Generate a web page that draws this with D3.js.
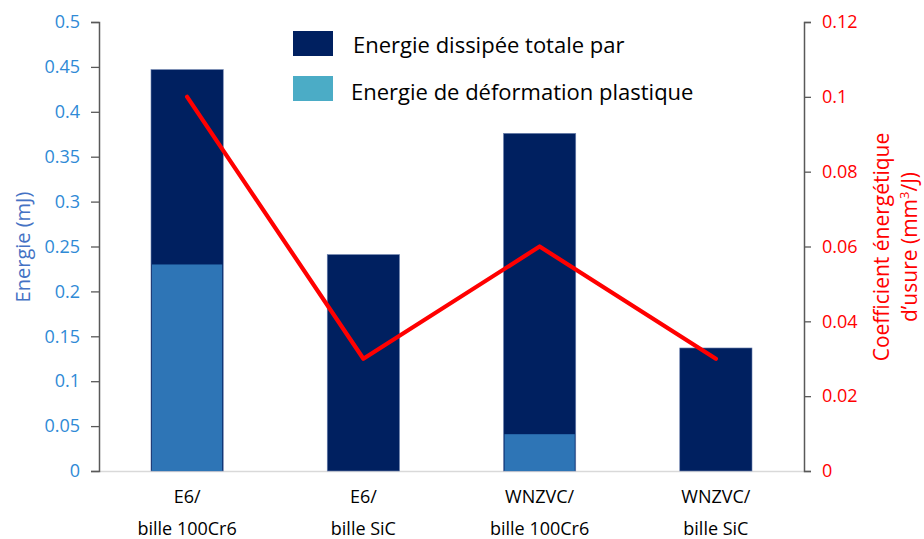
<!DOCTYPE html>
<html>
<head>
<meta charset="utf-8">
<script src="https://cdn.jsdelivr.net/npm/d3@7"></script>
<style>
  html, body { margin: 0; padding: 0; background: #fff; }
  svg { display: block; font-family: "Open Sans", "Noto Sans", sans-serif; }
</style>
</head>
<body>
<svg id="chart" width="924" height="539"></svg>
<script>
// Tribology test pairs (line 1 / line 2 of each label)
const categories = ["E6/\nbille 100Cr6", "E6/\nbille SiC", "WNZVC/\nbille 100Cr6", "WNZVC/\nbille SiC"];
// Total dissipated energy (mJ)
const totalEnergy = [0.447, 0.241, 0.376, 0.137];
// Plastic deformation energy (mJ)
const plasticEnergy = [0.23, 0, 0.041, 0];
// Energetic wear coefficient (mm³/J)
const wearCoef = [0.1, 0.03, 0.06, 0.03];
// Axis ticks
const leftTicks = [0, 0.05, 0.1, 0.15, 0.2, 0.25, 0.3, 0.35, 0.4, 0.45, 0.5];
const rightTicks = [0, 0.02, 0.04, 0.06, 0.08, 0.1, 0.12];
const legendLabels = ["Energie dissipée totale par", "Energie de déformation plastique"];

const svg = d3.select("#chart");
const plot = { left: 99, right: 804, top: 22, bottom: 471 };

const x = d3.scaleBand().domain(categories).range([plot.left, plot.right]).paddingInner(0.59).paddingOuter(0.295);
const yL = d3.scaleLinear().domain([0, 0.5]).range([plot.bottom, plot.top]);
const yR = d3.scaleLinear().domain([0, 0.12]).range([plot.bottom, plot.top]);

// Baseline
svg.append("line")
  .attr("x1", plot.left).attr("x2", plot.right)
  .attr("y1", plot.bottom + 0.5).attr("y2", plot.bottom + 0.5)
  .attr("stroke", "#d9d9d9").attr("stroke-width", 1.5);

// Total energy bars
svg.append("g").selectAll("rect").data(categories).join("rect")
  .attr("x", d => x(d))
  .attr("y", (d, i) => yL(totalEnergy[i]))
  .attr("width", x.bandwidth())
  .attr("height", (d, i) => yL(0) - yL(totalEnergy[i]))
  .attr("fill", "#002060")
  .attr("stroke", "#6f84b0").attr("stroke-width", 0.6);

// Plastic deformation part
svg.append("g").selectAll("rect").data(categories).join("rect")
  .attr("x", d => x(d) + 1)
  .attr("y", (d, i) => yL(plasticEnergy[i]))
  .attr("width", x.bandwidth() - 2)
  .attr("height", (d, i) => yL(0) - yL(plasticEnergy[i]))
  .attr("fill", "#2e75b6");

// Wear coefficient line
const line = d3.line()
  .x((d, i) => x(categories[i]) + x.bandwidth() / 2)
  .y(d => yR(d));
svg.append("path").datum(wearCoef)
  .attr("d", line)
  .attr("fill", "none")
  .attr("stroke", "#ff0000")
  .attr("stroke-width", 4.2)
  .attr("stroke-linejoin", "round")
  .attr("stroke-linecap", "round");

// Left axis
const leftAxis = d3.axisLeft(yL).tickValues(leftTicks).tickSize(8).tickPadding(11)
  .tickFormat(d => String(+d.toFixed(2)));
const gL = svg.append("g").attr("transform", `translate(${plot.left},0)`).call(leftAxis);
gL.select(".domain").attr("stroke", "#595959").attr("stroke-width", 1.5);
gL.selectAll(".tick line").attr("stroke", "#595959").attr("stroke-width", 1.3);
gL.selectAll(".tick text").attr("fill", "#2f8ad6").style("font-size", "18px")
  .style("font-family", "'Open Sans', sans-serif");

// Right axis
const rightAxis = d3.axisRight(yR).tickValues(rightTicks).tickSize(7).tickPadding(11)
  .tickFormat(d => String(+d.toFixed(2)));
const gR = svg.append("g").attr("transform", `translate(${plot.right},0)`).call(rightAxis);
gR.select(".domain").attr("stroke", "#595959").attr("stroke-width", 1.5);
gR.selectAll(".tick line").attr("stroke", "#595959").attr("stroke-width", 1.3);
gR.selectAll(".tick text").attr("fill", "#ff0000").style("font-size", "18px")
  .style("font-family", "'Open Sans', sans-serif");

// Category labels (two lines each)
const xl = svg.append("g");
categories.forEach(c => {
  const lines = c.split("\n");
  const t = xl.append("text")
    .attr("text-anchor", "middle")
    .attr("fill", "#000")
    .style("font-size", "18px");
  lines.forEach((s, k) => {
    t.append("tspan")
      .attr("x", x(c) + x.bandwidth() / 2)
      .attr("y", 503 + k * 32)
      .text(s);
  });
});

// Axis titles
svg.append("text")
  .attr("transform", "translate(30,247) rotate(-90)")
  .attr("text-anchor", "middle")
  .attr("fill", "#4472c4")
  .style("font-size", "20px")
  .text("Energie (mJ)");

const rt = svg.append("text")
  .attr("transform", "translate(889,247) rotate(-90)")
  .attr("text-anchor", "middle")
  .attr("fill", "#ff0000")
  .style("font-size", "21px");
rt.append("tspan").attr("x", 0).attr("y", 0).text("Coefficient énergétique");
const t2 = rt.append("tspan").attr("x", 0).attr("y", 28);
t2.append("tspan").text("d’usure (mm");
t2.append("tspan").attr("dy", -8).style("font-size", "13px").text("3");
t2.append("tspan").attr("dy", 8).text("/J)");

// Legend
const legendColors = ["#002060", "#4bacc6"];
const lg = svg.append("g");
legendLabels.forEach((lab, i) => {
  lg.append("rect")
    .attr("x", 293).attr("y", 31 + i * 45)
    .attr("width", 40).attr("height", 25)
    .attr("fill", legendColors[i]);
  lg.append("text")
    .attr("x", 353 - i * 2).attr("y", 53 + i * 47)
    .attr("fill", "#000")
    .style("font-size", "22px")
    .text(lab);
});
</script>
</body>
</html>
